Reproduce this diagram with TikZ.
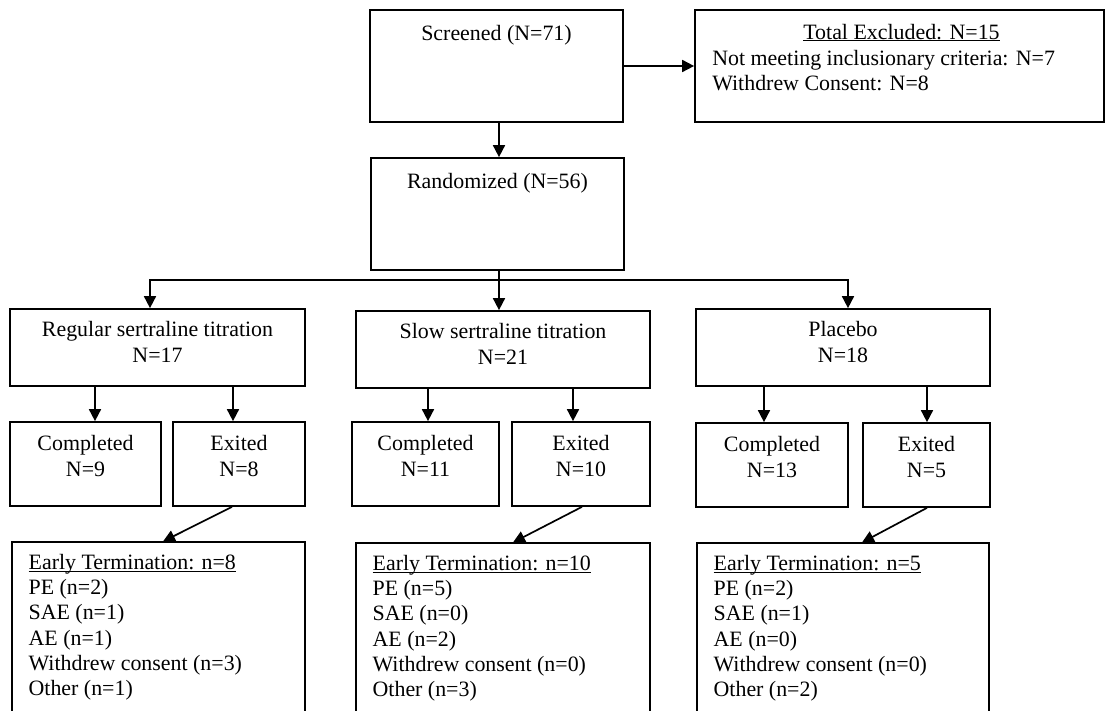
\documentclass[tikz,border=0pt]{standalone}
\usepackage{fontspec}
\setmainfont{Liberation Serif}
\usepackage{tikz}
\usetikzlibrary{arrows.meta}

\begin{document}
\begin{tikzpicture}[x=1pt, y=-1pt,
    box/.style n args={2}{draw, line width=1.7pt, inner sep=0pt, minimum width=#1, minimum height=#2},
    thinbox/.style n args={2}{draw, line width=1.1pt, inner sep=0pt, minimum width=#1, minimum height=#2},
    txt/.style={font=\fontsize{21.9}{25.2}\selectfont, inner sep=0pt, anchor=base, align=center},
    lst/.style={font=\fontsize{21.9}{25.2}\selectfont, inner sep=0pt, anchor=base west, align=left},
    arr/.style={-{Triangle[length=12pt,width=12pt]}, line width=1.7pt},
    ln/.style={line width=1.7pt}]
          \useasboundingbox (0,0) rectangle (1106,711);
          \clip (0,0) rectangle (1106,711);

          \node[box={253}{112}] (screen) at (496.5,66) {};
          \node[box={409}{112}] (excl) at (899.5,66) {};
          \node[box={253}{112}] (rand) at (497.5,214) {};

          \node[box={295}{77}] (reg) at (157.5,347.5) {};
          \node[box={294}{77}] (slow) at (503,349.5) {};
          \node[box={294}{77}] (plac) at (843,347.5) {};

          \node[box={151}{84}] (comp1) at (85.5,464) {};
          \node[box={132}{84}] (exit1) at (239,464) {};
          \node[box={147}{84}] (comp2) at (425.5,464) {};
          \node[box={138}{84}] (exit2) at (581,464) {};
          \node[box={152}{84}] (comp3) at (772,465) {};
          \node[box={127}{84}] (exit3) at (926.5,465) {};

          \node[thinbox={293}{200}] (early1) at (158.5,642) {};
          \node[thinbox={294}{200}] (early2) at (503,643) {};
          \node[thinbox={292}{200}] (early3) at (843,643) {};

          \node[txt] (screenT) at ([yshift=-31pt]screen.north) {Screened (N=71)};
          \node[txt] (exclT) at ([xshift=2pt,yshift=-30pt]excl.north) {\underline{\smash{Total Excluded: N=15}}};
          \node[lst] (exclL) at ([xshift=18pt,yshift=-81.5pt]excl.north west) {Not meeting inclusionary criteria: N=7\\Withdrew Consent: N=8};
          \node[txt] (randT) at ([yshift=-31pt]rand.north) {Randomized (N=56)};

          \node[txt] (regT) at ([yshift=-54pt]reg.north) {Regular sertraline titration\\N=17};
          \node[txt] (slowT) at ([yshift=-54pt]slow.north) {Slow sertraline titration\\N=21};
          \node[txt] (placT) at ([yshift=-54pt]plac.north) {Placebo\\N=18};

          \node[txt] (comp1T) at ([yshift=-55pt]comp1.north) {Completed\\N=9};
          \node[txt] (exit1T) at ([yshift=-55pt]exit1.north) {Exited\\N=8};
          \node[txt] (comp2T) at ([yshift=-55pt]comp2.north) {Completed\\N=11};
          \node[txt] (exit2T) at ([yshift=-55pt]exit2.north) {Exited\\N=10};
          \node[txt] (comp3T) at ([yshift=-55pt]comp3.north) {Completed\\N=13};
          \node[txt] (exit3T) at ([yshift=-55pt]exit3.north) {Exited\\N=5};

          \node[lst] (early1T) at ([xshift=17pt,yshift=-154pt]early1.north west) {\underline{\smash{Early Termination: n=8}}\\PE (n=2)\\SAE (n=1)\\AE (n=1)\\Withdrew consent (n=3)\\Other (n=1)};
          \node[lst] (early2T) at ([xshift=17pt,yshift=-154pt]early2.north west) {\underline{\smash{Early Termination: n=10}}\\PE (n=5)\\SAE (n=0)\\AE (n=2)\\Withdrew consent (n=0)\\Other (n=3)};
          \node[lst] (early3T) at ([xshift=17pt,yshift=-154pt]early3.north west) {\underline{\smash{Early Termination: n=5}}\\PE (n=2)\\SAE (n=1)\\AE (n=0)\\Withdrew consent (n=0)\\Other (n=2)};

          \coordinate (split) at (499,280);

          \draw[arr] (screen.east) -- (excl.west);
          \draw[arr] ([xshift=2.5pt]screen.south) -- ([xshift=1.5pt]rand.north);
          \draw[ln] ([xshift=1.5pt]rand.south) -- (split);
          \draw[arr] (split) -- ([xshift=-4pt]slow.north);
          \draw[arr] (split) -| ([xshift=-7.5pt]reg.north);
          \draw[arr] (split) -| ([xshift=5pt]plac.north);

          \draw[arr] ([xshift=-62.5pt]reg.south) -- ([xshift=9.5pt]comp1.north);
          \draw[arr] ([xshift=75.5pt]reg.south) -- ([xshift=-6pt]exit1.north);
          \draw[arr] ([xshift=-75pt]slow.south) -- ([xshift=2.5pt]comp2.north);
          \draw[arr] ([xshift=70pt]slow.south) -- ([xshift=-8pt]exit2.north);
          \draw[arr] ([xshift=-79pt]plac.south) -- ([xshift=-8pt]comp3.north);
          \draw[arr] ([xshift=84pt]plac.south) -- ([xshift=0.5pt]exit3.north);

          \draw[arr] ([xshift=-7pt]exit1.south) -- ([xshift=4.5pt]early1.north);
          \draw[arr] ([xshift=1pt]exit2.south) -- ([xshift=10pt]early2.north);
          \draw[arr] ([xshift=0.5pt]exit3.south) -- ([xshift=19pt]early3.north);
        \end{tikzpicture}
\end{document}
